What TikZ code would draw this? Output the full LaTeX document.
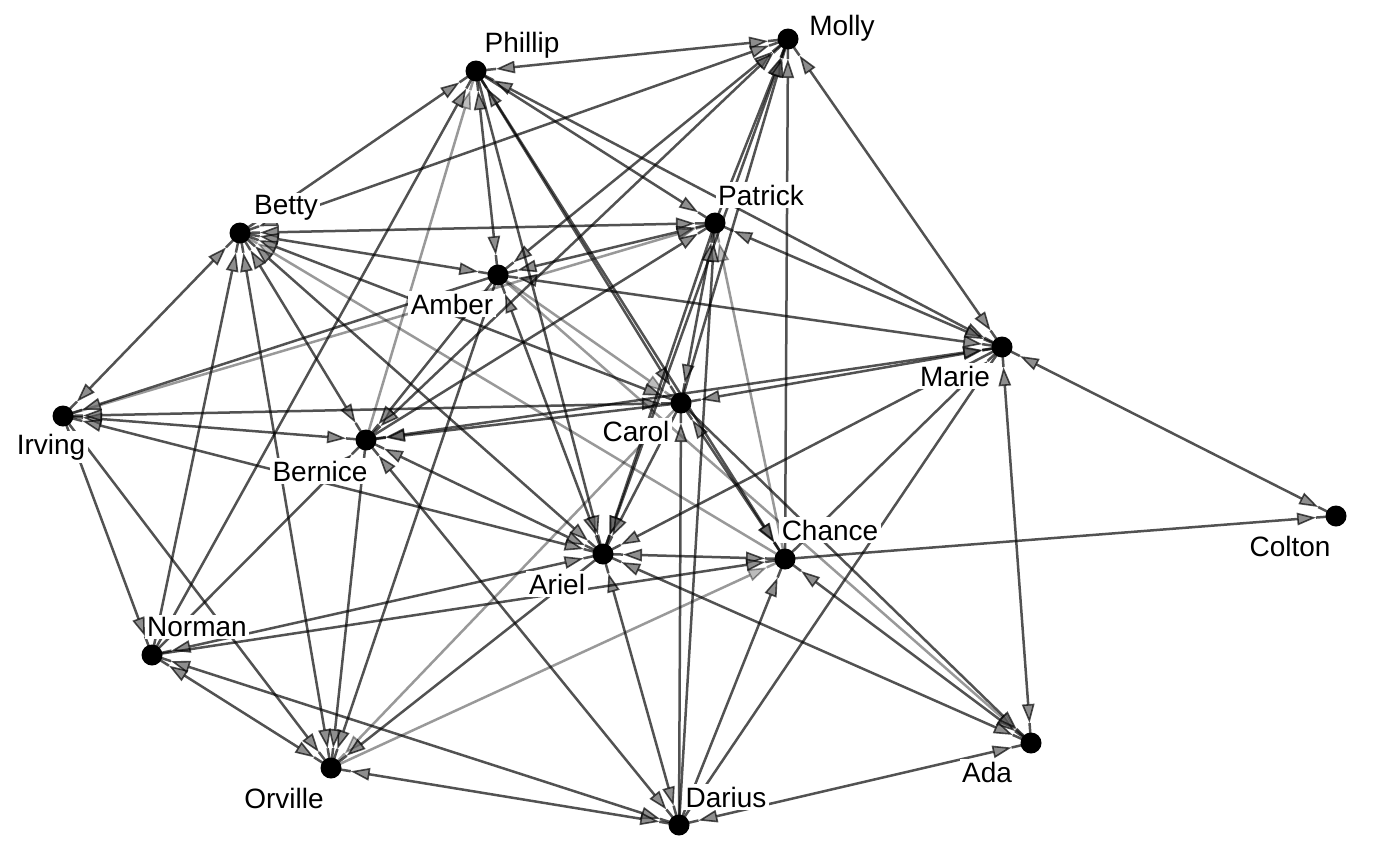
\documentclass[tikz,border=0pt]{standalone}
\usepackage{fontspec}
\setmainfont{Liberation Sans}
\usetikzlibrary{arrows.meta,calc}
\tikzset{
  vert/.style={circle, fill=black, minimum size=21pt, inner sep=0pt},
  lab/.style={fill=white, inner sep=2.5pt, font=\fontsize{28}{30}\selectfont},
  dk/.style={draw=black, opacity=0.68, line width=2.5pt},
  lt/.style={draw=black, opacity=0.4, line width=2.5pt},
  hd/.style={-{Triangle[length=19pt, width=12.5pt, line width=1.6pt, fill=black!65]}},
  hh/.style={{Triangle[length=19pt, width=12.5pt, line width=1.6pt, fill=black!65]}-{Triangle[length=19pt, width=12.5pt, line width=1.6pt, fill=black!65]}},
}
\newcommand{\eone}[3][dk]{%
  \draw[#1,hd] (#2) -- ($(#3)!20pt!(#2)$);
  \draw[#1] ($(#3)!20pt!(#2)$) -- (#3);}
\newcommand{\etwo}[3][dk]{%
  \draw[#1,hh] ($(#2)!20pt!(#3)$) -- ($(#3)!20pt!(#2)$);
  \draw[#1] (#2) -- ($(#2)!20pt!(#3)$);
  \draw[#1] ($(#3)!20pt!(#2)$) -- (#3);}
\begin{document}
\begin{tikzpicture}[x=1pt, y=-1pt]
\fill[white] (0,0) rectangle (1400,865);
\useasboundingbox (0,0) rectangle (1400,865);
% vertex positions
\coordinate (M)  at (788,39);
\coordinate (Ph) at (476,71);
\coordinate (Be) at (240,233);
\coordinate (Pa) at (715,223);
\coordinate (Am) at (498,275);
\coordinate (Ma) at (1002,347);
\coordinate (Ir) at (63,416);
\coordinate (Ca) at (681,403);
\coordinate (Bn) at (366,440);
\coordinate (Co) at (1336,516);
\coordinate (Ar) at (603,554);
\coordinate (Ch) at (785,559);
\coordinate (No) at (152,655);
\coordinate (Or) at (331,768);
\coordinate (Da) at (679,825);
\coordinate (Ad) at (1031,743);
% mutual edges
\etwo{Ph}{M} \etwo{Ph}{Am} \etwo{Ph}{Ca} \etwo{Be}{M} \etwo{Be}{Pa}
\etwo{Be}{Am} \etwo{Be}{Ca} \etwo{Be}{Ar} \etwo{Be}{Bn} \etwo{Be}{Or}
\etwo{Be}{Ir} \etwo{Am}{M} \etwo{Ar}{M} \etwo{M}{Ma} \etwo{Am}{Pa}
\etwo{Pa}{Ca} \etwo{Am}{Ma} \etwo{Am}{Ar} \etwo{Ma}{Ca} \etwo{Ca}{Ch}
\etwo{Ma}{Co} \etwo{Ma}{Ad} \etwo{Ar}{Ch} \etwo{Da}{Ad} \etwo{Ar}{Bn}
\etwo{Ar}{No} \etwo{No}{Or} \etwo{No}{Da} \etwo{Or}{Da} \etwo{Ir}{Bn}
\etwo{Ir}{Ca} \etwo{Ph}{Ma} \etwo{Pa}{Ma} \etwo{Bn}{Ma} \etwo{Ch}{Ad}
\etwo{Ar}{Ad} \etwo{Ar}{Ir} \etwo{Bn}{M} \etwo{Ar}{Da} \etwo{Bn}{Da}
% one-way edges
\eone{Be}{Ph} \eone{Ph}{Pa} \eone{Ph}{Ch} \eone{Ph}{Ar} \eone[lt]{Bn}{Ph}
\eone{No}{Ph} \eone[lt]{Ch}{Be} \eone{No}{Be} \eone{Pa}{M} \eone{Ca}{M}
\eone{Ch}{M} \eone[lt]{Ir}{Pa} \eone{Bn}{Pa} \eone{Pa}{Ar} \eone{Da}{Pa}
\eone[lt]{Ch}{Pa} \eone[lt]{Am}{Ca} \eone[lt]{Am}{Ad} \eone{Am}{Bn} \eone{Am}{Or}
\eone{Am}{Ir} \eone{Ca}{Bn} \eone{Ca}{Ar} \eone{Da}{Ca} \eone[lt]{Ca}{Or}
\eone{Ca}{Ad} \eone{Ma}{Ar} \eone{Ch}{Ma} \eone{Ch}{Co} \eone{Da}{Ma}
\eone{Da}{Ch} \eone{No}{Ch} \eone{Ar}{Or} \eone[lt]{Or}{Ch} \eone{Ir}{No}
\eone{Ir}{Or} \eone{No}{Bn} \eone{Bn}{Or}
% vertices
\foreach \v in {M,Ph,Be,Pa,Am,Ma,Ir,Ca,Bn,Co,Ar,Ch,No,Or,Da,Ad}
  \node[vert] (\v-dot) at (\v) {};
% labels
\node[lab] (M-l)  at (842,28)  {Molly};
\node[lab] (Ph-l) at (522,45)  {Phillip};
\node[lab] (Be-l) at (286,208) {Betty};
\node[lab] (Pa-l) at (761,195) {Patrick};
\node[lab] (Am-l) at (452,304) {Amber};
\node[lab] (Ma-l) at (955,376) {Marie};
\node[lab] (Ir-l) at (51,447)  {Irving};
\node[lab] (Ca-l) at (636,431) {Carol};
\node[lab] (Bn-l) at (320,471) {Bernice};
\node[lab] (Co-l) at (1290,546) {Colton};
\node[lab] (Ar-l) at (557,584) {Ariel};
\node[lab] (Ch-l) at (830,530) {Chance};
\node[lab] (No-l) at (197,627) {Norman};
\node[lab] (Or-l) at (284,798) {Orville};
\node[lab] (Da-l) at (726,797) {Darius};
\node[lab] (Ad-l) at (987,772) {Ada};
\end{tikzpicture}
\end{document}
